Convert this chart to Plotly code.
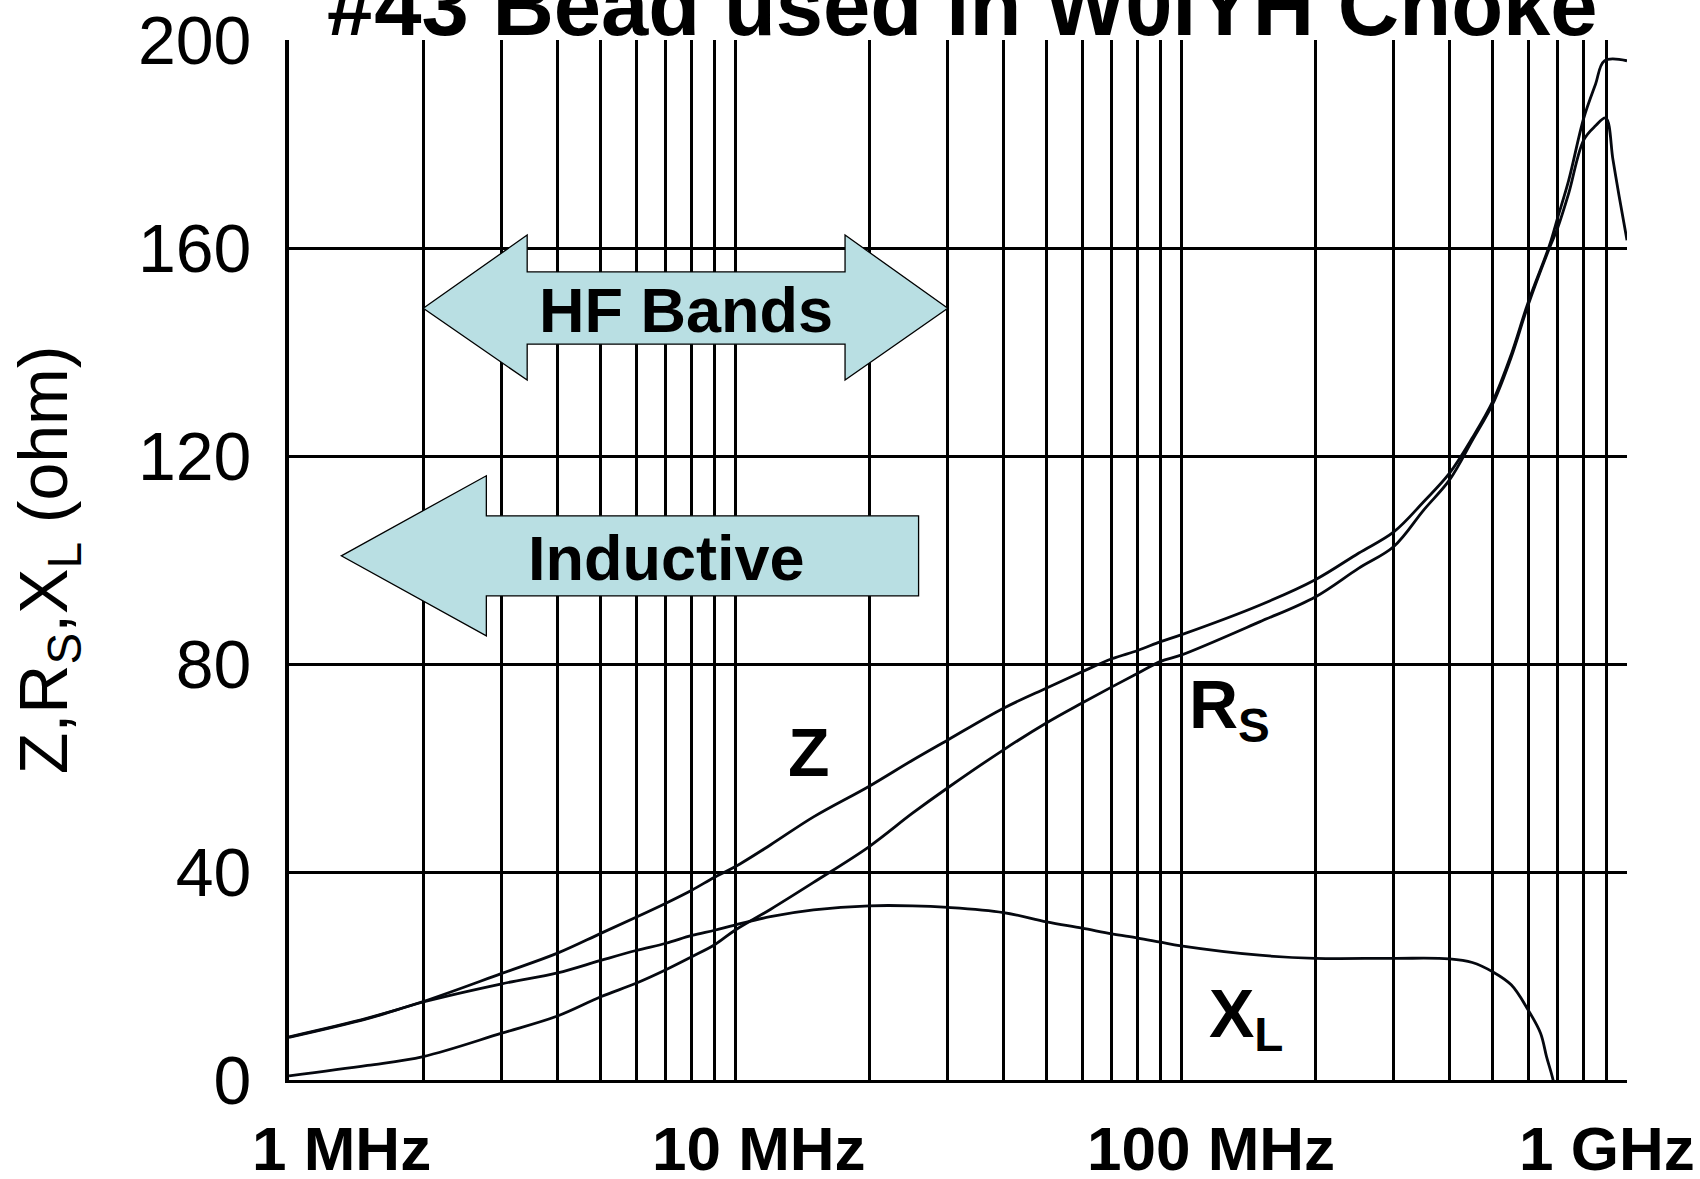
import numpy as np
import plotly.graph_objects as go

# impedance of the #43 bead (frequency in MHz, ohms)
f_z = [1, 1.5, 2, 3, 4, 5, 6, 7, 8, 9, 10, 12, 15, 20, 25, 30, 40, 50, 60, 70, 80, 90, 100,
       150, 200, 250, 300, 350, 400, 450, 500, 550, 600, 670, 700, 740, 800, 850, 890, 1000]
z_ohm = [8.3, 11.9, 15.1, 20.5, 24.4, 28.2, 31.3, 34.0, 36.5, 39.0, 41.0, 45.2, 50.6, 56.5, 61.5,
         65.4, 71.5, 75.4, 78.5, 81.0, 82.6, 84.3, 85.6, 91.3, 96.2, 101.3, 105.4, 111.2, 116.7,
         123.5, 130.5, 139.5, 149.5, 160.5, 166, 173, 185, 191.5, 196, 196]

f_rs = [1, 1.5, 2, 3, 4, 5, 6, 7, 8, 9, 10, 12, 15, 20, 25, 30, 40, 50, 60, 70, 80, 90, 100,
        150, 200, 250, 300, 350, 400, 450, 500, 550, 600, 670, 700, 740, 800, 850, 896, 930, 960, 1000]
rs_ohm = [0.8, 2.8, 4.5, 9.0, 12.3, 16.0, 18.6, 21.2, 23.7, 26.0, 28.8, 32.8, 38.0, 44.9, 51.3,
          56.2, 63.5, 68.7, 72.5, 75.6, 78.2, 80.5, 81.7, 88.1, 92.9, 98.4, 102.6, 109.6, 115.4,
          123, 130, 139, 149, 160, 164, 170.5, 180.8, 183.5, 185, 177, 170, 161.5]

f_xl = [1, 1.5, 2, 3, 4, 5, 6, 7, 8, 9, 10, 12, 15, 20, 25, 30, 40, 50, 60, 70, 80, 90, 100,
        150, 200, 300, 400, 450, 500, 550, 600, 640, 660, 680, 700]
xl_ohm = [8.2, 11.8, 15.0, 18.5, 20.6, 23.0, 24.9, 26.3, 27.8, 28.8, 29.8, 31.4, 32.7, 33.5, 33.5,
          33.2, 32.2, 30.4, 29.2, 28.1, 27.3, 26.5, 25.8, 24.0, 23.4, 23.4, 23.3, 22.6, 20.8, 18.3,
          13.5, 9.0, 4.5, 0.6, -4]

y_ticks = [0, 40, 80, 120, 160, 200]
x_tick_text = ['1 MHz', '10 MHz', '100 MHz', '1 GHz']
x_tick_pos = [1.31, 11.3, 117, 903]   # label centres, MHz

FONT = 'Liberation Sans, Arial, sans-serif'
INK = '#05080f'
ARROW_FILL = '#b9dfe3'


def px(f):
    return np.log10(f) / 3.0


def py(v):
    return v / 200.0


def arrow_path(pts):
    s = 'M ' + ' L '.join(f'{px(f):.5f},{py(v):.5f}' for f, v in pts)
    return s + ' Z'


fig = go.Figure()
for f, v in [(f_z, z_ohm), (f_rs, rs_ohm), (f_xl, xl_ohm)]:
    fig.add_trace(go.Scatter(x=f, y=v, mode='lines', line=dict(color=INK, width=2.8, shape='spline', smoothing=1.0),
                             showlegend=False, hoverinfo='skip'))

hf_arrow = [(2, 148.4), (3.42, 162.5), (3.42, 155.4), (17.65, 155.4), (17.65, 162.5), (30, 148.4),
            (17.65, 134.6), (17.65, 141.5), (3.42, 141.5), (3.42, 134.6)]
ind_arrow = [(1.31, 100.8), (2.77, 116.2), (2.77, 108.5), (25.8, 108.5), (25.8, 93.1),
             (2.77, 93.1), (2.77, 85.4)]
for pts in (hf_arrow, ind_arrow):
    fig.add_shape(type='path', xref='paper', yref='paper', path=arrow_path(pts),
                  fillcolor=ARROW_FILL, line=dict(color='black', width=1.3), layer='above')

ann = []
ann.append(dict(text='<b>#43 Bead used in W0IYH Choke</b>', xref='paper', yref='paper', x=0.503, y=0.986,
                xanchor='center', yanchor='bottom', showarrow=False, font=dict(size=85, color='black')))
for t, f in zip(x_tick_text, x_tick_pos):
    ann.append(dict(text=f'<b>{t}</b>', xref='paper', yref='paper', x=px(f), y=-0.0655,
                    xanchor='center', yanchor='middle', showarrow=False, font=dict(size=62, color='black')))
ann.append(dict(text='Z,R<sub>S</sub>,X<sub>L</sub> (ohm)', xref='paper', yref='paper', x=-0.180, y=0.5,
                xanchor='center', yanchor='middle', textangle=-90, showarrow=False,
                font=dict(size=68, color='black')))
ann.append(dict(text='<b>HF Bands</b>', xref='paper', yref='paper', x=px(7.78), y=py(148.1),
                xanchor='center', yanchor='middle', showarrow=False, font=dict(size=63, color='black')))
ann.append(dict(text='<b>Inductive</b>', xref='paper', yref='paper', x=px(7.02), y=py(100.4),
                xanchor='center', yanchor='middle', showarrow=False, font=dict(size=63, color='black')))
ann.append(dict(text='<b>Z</b>', xref='paper', yref='paper', x=0.389, y=0.315,
                xanchor='center', yanchor='middle', showarrow=False, font=dict(size=68, color='black')))
ann.append(dict(text='<b>R<sub>S</sub></b>', xref='paper', yref='paper', x=0.671, y=0.357,
                xanchor='left', yanchor='middle', showarrow=False, font=dict(size=68, color='black')))
ann.append(dict(text='<b>X<sub>L</sub></b>', xref='paper', yref='paper', x=0.686, y=0.06,
                xanchor='left', yanchor='middle', showarrow=False, font=dict(size=68, color='black')))

fig.update_layout(
    width=1700, height=1179,
    margin=dict(l=289, r=73, t=40, b=99),
    paper_bgcolor='white', plot_bgcolor='white',
    font=dict(family=FONT, color='black'),
    annotations=ann,
    xaxis=dict(type='log', range=[0, 3], dtick='D1', showticklabels=False, ticks='', automargin=False,
               showgrid=True, gridcolor='black', gridwidth=3,
               showline=True, linecolor='black', linewidth=3, zeroline=False),
    yaxis=dict(range=[0, 200], tickvals=y_ticks, ticks='', ticklabelstandoff=20, automargin=False,
               tickfont=dict(size=68, color='black'),
               showgrid=True, gridcolor='black', gridwidth=3,
               showline=True, linecolor='black', linewidth=4, zeroline=False),
)

# the page body has a default 8px margin; drop it so the figure sits at the window corner
fig.write_html('out.html', config={'displayModeBar': False},
               post_script="document.body.style.margin='0';")
